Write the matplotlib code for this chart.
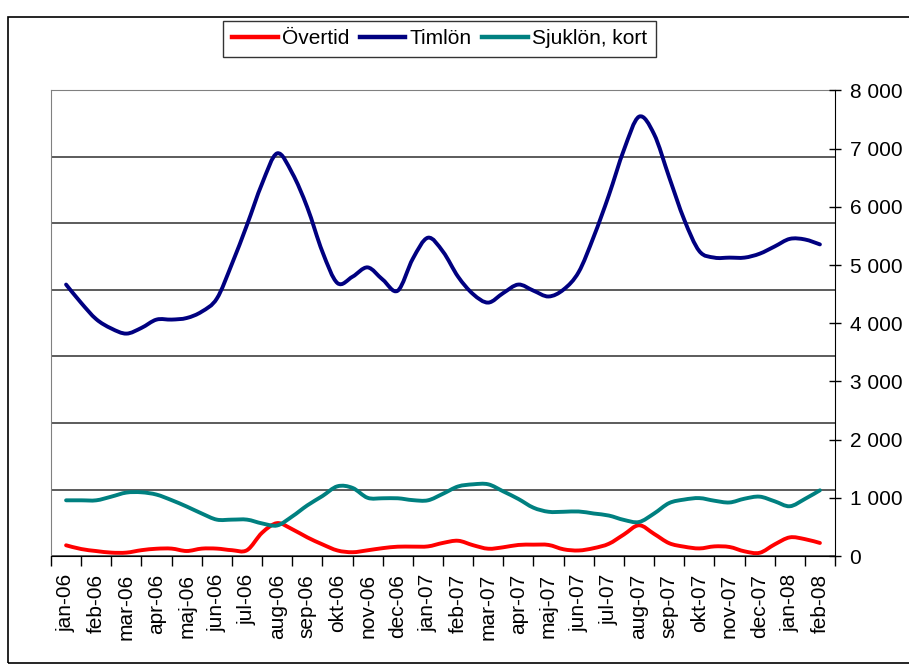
import numpy as np
import matplotlib
matplotlib.use("Agg")
import matplotlib.pyplot as plt
from matplotlib.patches import Rectangle, PathPatch
from matplotlib.path import Path
from matplotlib.lines import Line2D
from matplotlib.ticker import FuncFormatter, FixedLocator

plt.rcParams['font.family'] = ['Liberation Sans', 'DejaVu Sans']

manader = ['jan-06', 'feb-06', 'mar-06', 'apr-06', 'maj-06', 'jun-06',
           'jul-06', 'aug-06', 'sep-06', 'okt-06', 'nov-06', 'dec-06',
           'jan-07', 'feb-07', 'mar-07', 'apr-07', 'maj-07', 'jun-07',
           'jul-07', 'aug-07', 'sep-07', 'okt-07', 'nov-07', 'dec-07',
           'jan-08', 'feb-08']

# avläst per halvmånad (jan-06 .. feb-08)
overtid = [184, 120, 85, 58, 58, 100, 125, 127, 86, 127, 127, 100, 100,
           400, 565, 460, 320, 200, 95, 65, 98, 135, 160, 161, 165, 225,
           262, 185, 125, 150, 190, 195, 190, 115, 95, 135, 210, 370, 528,
           380, 220, 160, 130, 165, 155, 80, 55, 200, 320, 290, 224]

timlon = [4665, 4350, 4070, 3910, 3822, 3920, 4063, 4063, 4090, 4200, 4424,
          5020, 5690, 6400, 6920, 6580, 5990, 5230, 4690, 4800, 4960, 4750,
          4560, 5110, 5470, 5230, 4800, 4500, 4355, 4520, 4665, 4560, 4460,
          4580, 4880, 5490, 6200, 6980, 7550, 7250, 6510, 5780, 5240, 5128,
          5128, 5128, 5195, 5320, 5450, 5440, 5355]

sjuklon = [957, 957, 957, 1020, 1090, 1095, 1055, 960, 850, 730, 625, 625,
           625, 560, 525, 680, 870, 1030, 1198, 1170, 1000, 992, 992, 960,
           957, 1070, 1195, 1232, 1232, 1110, 980, 830, 760, 760, 765, 730,
           695, 620, 584, 730, 910, 970, 995, 950, 920, 985, 1020, 940, 855,
           980, 1129]

pos = np.arange(len(timlon)) / 2.0


def smooth_path(x, y):
    # utjämnad linje som i Excel (Bezier genom varje punkt)
    p = np.column_stack([x, y]).astype(float)
    ext = np.vstack([p[0], p, p[-1]])
    verts = [p[0]]
    codes = [Path.MOVETO]
    for i in range(len(p) - 1):
        c1 = ext[i + 1] + (ext[i + 2] - ext[i]) / 6
        c2 = ext[i + 2] - (ext[i + 3] - ext[i + 1]) / 6
        verts += [c1, c2, p[i + 1]]
        codes += [Path.CURVE4] * 3
    return Path(verts, codes)


fig = plt.figure(figsize=(9.09, 6.66), dpi=100)

# ram runt hela diagrammet
fig.patches.append(Rectangle((8 / 909, 3 / 666), 1.0, 646 / 666,
                             transform=fig.transFigure, fill=False,
                             edgecolor='black', linewidth=1.2))

ax = fig.add_axes([51 / 909, 110 / 666, 784 / 909, 465.5 / 666])
ax2 = ax.twinx()

# primär axel: bara stödlinjer (7 steg)
ax.set_ylim(0, 7)
ax.set_yticks(range(8))
ax.yaxis.grid(True, color='#404040', linewidth=1.2)
ax.tick_params(axis='y', left=False, labelleft=False)
ax.set_axisbelow(True)

ax.set_xlim(-0.5, len(manader) - 0.5)
ax.set_xticks(range(len(manader)))
ax.set_xticklabels(manader, rotation=90, fontsize=15)
ax.xaxis.set_minor_locator(FixedLocator(np.arange(-0.5, len(manader), 1)))
ax.tick_params(axis='x', which='major', length=0, pad=13)
ax.tick_params(axis='x', which='minor', length=7, width=1, direction='out')

ax.spines['left'].set_color('#808080')
ax.spines['top'].set_color('#808080')
ax.spines['right'].set_visible(False)
ax.spines['bottom'].set_color('black')

serier = [(overtid, '#FF0000', 'Övertid'),
          (timlon, '#000080', 'Timlön'),
          (sjuklon, '#008080', 'Sjuklön, kort')]
handles = []
for vals, col, lab in serier:
    ax2.add_patch(PathPatch(smooth_path(pos, vals), facecolor='none',
                            edgecolor=col, linewidth=2.8, capstyle='round',
                            joinstyle='round'))
    handles.append(Line2D([], [], color=col, linewidth=3.2, label=lab))

ax2.set_ylim(0, 8000)
ax2.set_yticks(range(0, 8001, 1000))
ax2.yaxis.set_major_formatter(FuncFormatter(lambda v, p: f'{int(v):,}'.replace(',', ' ')))
ax2.tick_params(axis='y', direction='inout', length=9, width=1, labelsize=15, pad=6)
ax2.spines['right'].set_color('black')
for s in ['left', 'top', 'bottom']:
    ax2.spines[s].set_visible(False)

leg = fig.legend(handles=handles, loc='center', ncol=3,
                 bbox_to_anchor=(439.5 / 909, 1 - 39 / 666), fontsize=15,
                 frameon=True, fancybox=False, handlelength=2.2,
                 handletextpad=0.2, columnspacing=0.5, borderpad=0.4)
leg.get_frame().set_edgecolor('black')
leg.get_frame().set_linewidth(1.0)

fig.savefig('out.png', dpi=100)
